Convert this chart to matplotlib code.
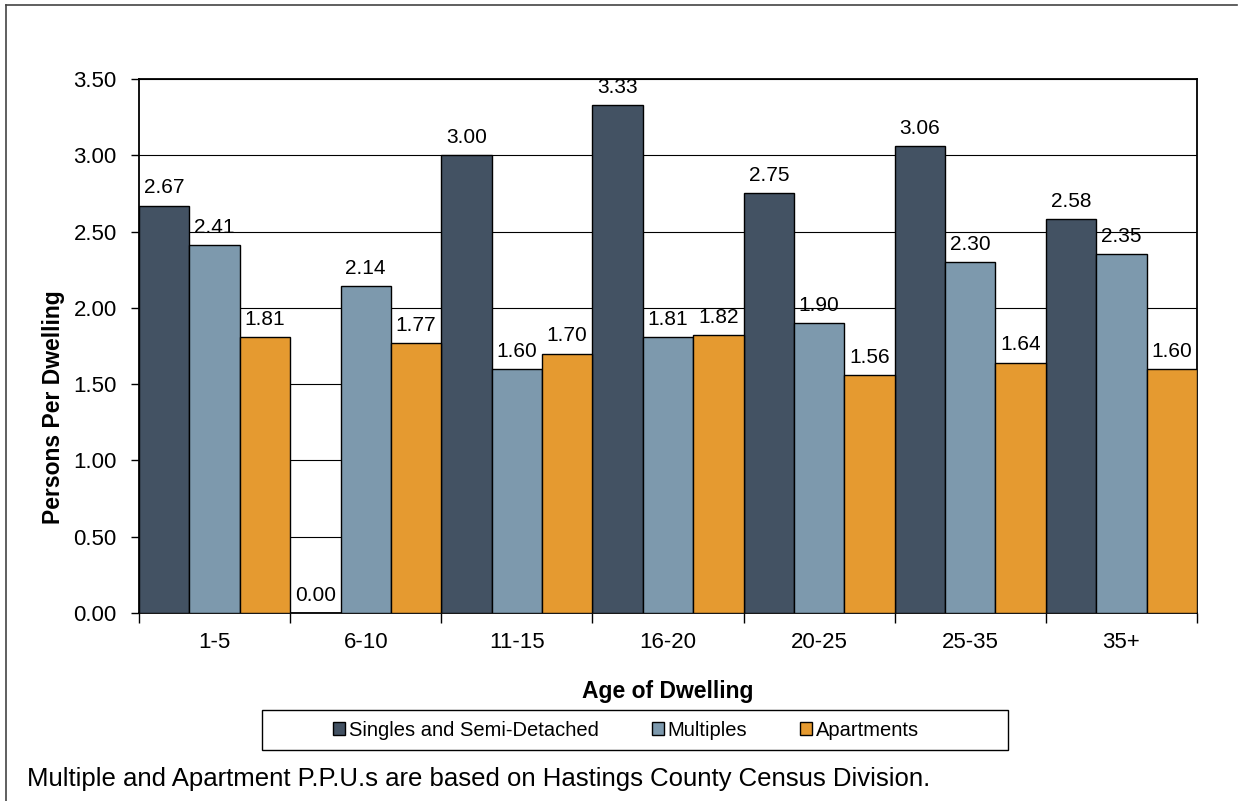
import matplotlib

matplotlib.use("Agg")
import matplotlib.pyplot as plt
import numpy as np
from matplotlib.lines import Line2D
from matplotlib.patches import Rectangle

plt.rcParams["font.family"] = ["Liberation Sans", "DejaVu Sans"]

AGE_GROUPS = ["1-5", "6-10", "11-15", "16-20", "20-25", "25-35", "35+"]
SINGLES = [2.67, 0.00, 3.00, 3.33, 2.75, 3.06, 2.58]
MULTIPLES = [2.41, 2.14, 1.60, 1.81, 1.90, 2.30, 2.35]
APARTMENTS = [1.81, 1.77, 1.70, 1.82, 1.56, 1.64, 1.60]
SERIES_NAMES = ["Singles and Semi-Detached", "Multiples", "Apartments"]
Y_TICKS = [0.0, 0.5, 1.0, 1.5, 2.0, 2.5, 3.0, 3.5]

COLORS = ["#435263", "#7d99ad", "#e59a30"]

W, H = 1247, 801
fig = plt.figure(figsize=(W / 100, H / 100), dpi=100)
ax = fig.add_axes([139 / W, 1 - 613 / H, (1197 - 139) / W, (613 - 79) / H])

x = np.arange(len(AGE_GROUPS))
width = 1 / 3
series = [SINGLES, MULTIPLES, APARTMENTS]
for i, (values, name, color) in enumerate(zip(series, SERIES_NAMES, COLORS)):
    pos = x - 0.5 + width * (i + 0.5)
    bars = ax.bar(pos, values, width=width, color=color, edgecolor="black",
                  linewidth=1.0, label=name, zorder=3)
    for b, v in zip(bars, values):
        ax.annotate(f"{v:.2f}", (b.get_x() + b.get_width() / 2, v),
                    xytext=(0, 6), textcoords="offset points",
                    ha="center", va="bottom", fontsize=15, zorder=4)

ax.set_xlim(-0.5, len(AGE_GROUPS) - 0.5)
ax.set_ylim(0, 3.5)
ax.set_yticks(Y_TICKS)
ax.set_yticklabels([f"{t:.2f}" for t in Y_TICKS], fontsize=16)
ax.yaxis.grid(True, color="black", linewidth=0.8, zorder=0)
ax.set_axisbelow(True)

ax.set_xticks(np.arange(len(AGE_GROUPS) + 1) - 0.5)
ax.set_xticklabels([])
ax.set_xticks(x, minor=True)
ax.set_xticklabels(AGE_GROUPS, minor=True, fontsize=16)
ax.tick_params(axis="x", which="minor", length=0, pad=14)
ax.tick_params(axis="x", which="major", length=7, direction="out", width=1)
ax.tick_params(axis="y", length=6, direction="out", width=1, pad=10)

for spine in ax.spines.values():
    spine.set_linewidth(1.3)
    spine.set_color("black")

ax.set_ylabel("Persons Per Dwelling", fontsize=16.5, fontweight="bold", labelpad=6)
ax.yaxis.label.set_y((613 - 407) / (613 - 79))
ax.set_xlabel("Age of Dwelling", fontsize=16.5, fontweight="bold", labelpad=19)

handles, labels = ax.get_legend_handles_labels()
leg = fig.legend(handles, labels, loc="center", bbox_to_anchor=(626 / W, 1 - 730 / H),
                 ncol=3, frameon=False, handlelength=0.6, handleheight=0.6,
                 handletextpad=0.2, columnspacing=2.6,
                 prop={"size": 14.5})
fig.patches.append(Rectangle((262 / W, 1 - 750 / H), (1008 - 262) / W, 40 / H,
                             transform=fig.transFigure, fill=False,
                             edgecolor="black", linewidth=1.0))

fig.text(27 / W, 1 - 779 / H,
         "Multiple and Apartment P.P.U.s are based on Hastings County Census Division.",
         fontsize=18.5, ha="left", va="center")

# outer border (top and left edges visible in the original)
fig.lines.append(Line2D([6 / W, 1237 / W], [1 - 5 / H, 1 - 5 / H],
                        transform=fig.transFigure, color="#444444", linewidth=1.2))
fig.lines.append(Line2D([6 / W, 6 / W], [1 - 5 / H, 0], transform=fig.transFigure,
                        color="#444444", linewidth=1.2))

fig.savefig("out.png", dpi=100)
